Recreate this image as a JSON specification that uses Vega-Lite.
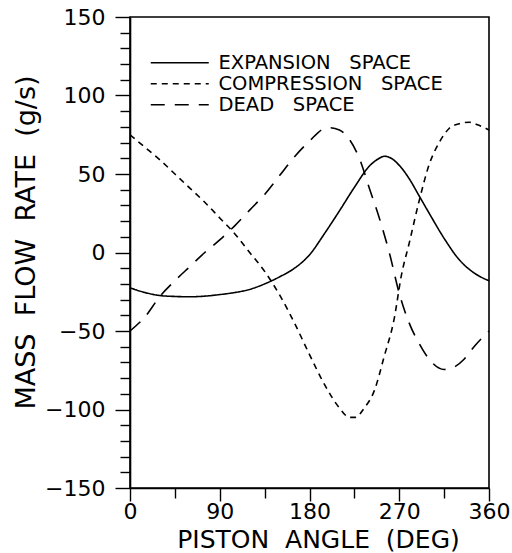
{
  "$schema": "https://vega.github.io/schema/vega-lite/v6.json",
  "width": 359,
  "height": 471,
  "autosize": "none",
  "padding": {"left": 130, "top": 17, "right": 23, "bottom": 65},
  "background": "white",
  "config": {
    "view": {"stroke": "black", "strokeWidth": 1.6},
    "font": "DejaVu Sans",
    "axis": {"grid": false, "domainColor": "black", "domainWidth": 1.6, "tickColor": "black", "tickWidth": 1.4, "labelColor": "black", "titleColor": "black", "labelFont": "DejaVu Sans", "titleFont": "DejaVu Sans", "titleFontWeight": "normal", "labelOverlap": false, "labelFlush": false}
  },
  "data": {
    "values": [
      {"angle": 0, "rate": -22.5, "space": "EXPANSION SPACE"},
      {"angle": 15, "rate": -25.5, "space": "EXPANSION SPACE"},
      {"angle": 30, "rate": -27.4, "space": "EXPANSION SPACE"},
      {"angle": 45, "rate": -28.0, "space": "EXPANSION SPACE"},
      {"angle": 60, "rate": -28.2, "space": "EXPANSION SPACE"},
      {"angle": 75, "rate": -27.8, "space": "EXPANSION SPACE"},
      {"angle": 90, "rate": -26.8, "space": "EXPANSION SPACE"},
      {"angle": 105, "rate": -25.5, "space": "EXPANSION SPACE"},
      {"angle": 120, "rate": -23.5, "space": "EXPANSION SPACE"},
      {"angle": 135, "rate": -20.0, "space": "EXPANSION SPACE"},
      {"angle": 150, "rate": -15.5, "space": "EXPANSION SPACE"},
      {"angle": 165, "rate": -10.0, "space": "EXPANSION SPACE"},
      {"angle": 180, "rate": -1.5, "space": "EXPANSION SPACE"},
      {"angle": 195, "rate": 12.0, "space": "EXPANSION SPACE"},
      {"angle": 210, "rate": 26.5, "space": "EXPANSION SPACE"},
      {"angle": 225, "rate": 41.5, "space": "EXPANSION SPACE"},
      {"angle": 240, "rate": 55.0, "space": "EXPANSION SPACE"},
      {"angle": 250, "rate": 60.0, "space": "EXPANSION SPACE"},
      {"angle": 255, "rate": 61.3, "space": "EXPANSION SPACE"},
      {"angle": 262, "rate": 60.0, "space": "EXPANSION SPACE"},
      {"angle": 270, "rate": 55.5, "space": "EXPANSION SPACE"},
      {"angle": 280, "rate": 47.0, "space": "EXPANSION SPACE"},
      {"angle": 290, "rate": 36.0, "space": "EXPANSION SPACE"},
      {"angle": 300, "rate": 25.0, "space": "EXPANSION SPACE"},
      {"angle": 315, "rate": 9.0, "space": "EXPANSION SPACE"},
      {"angle": 330, "rate": -4.5, "space": "EXPANSION SPACE"},
      {"angle": 345, "rate": -13.0, "space": "EXPANSION SPACE"},
      {"angle": 360, "rate": -18.0, "space": "EXPANSION SPACE"},

      {"angle": 0, "rate": 75, "space": "COMPRESSION SPACE"},
      {"angle": 15, "rate": 67, "space": "COMPRESSION SPACE"},
      {"angle": 30, "rate": 59, "space": "COMPRESSION SPACE"},
      {"angle": 45, "rate": 50, "space": "COMPRESSION SPACE"},
      {"angle": 60, "rate": 41, "space": "COMPRESSION SPACE"},
      {"angle": 75, "rate": 32, "space": "COMPRESSION SPACE"},
      {"angle": 90, "rate": 22, "space": "COMPRESSION SPACE"},
      {"angle": 105, "rate": 12, "space": "COMPRESSION SPACE"},
      {"angle": 120, "rate": 0, "space": "COMPRESSION SPACE"},
      {"angle": 135, "rate": -12, "space": "COMPRESSION SPACE"},
      {"angle": 150, "rate": -27, "space": "COMPRESSION SPACE"},
      {"angle": 165, "rate": -45, "space": "COMPRESSION SPACE"},
      {"angle": 180, "rate": -65, "space": "COMPRESSION SPACE"},
      {"angle": 195, "rate": -84, "space": "COMPRESSION SPACE"},
      {"angle": 210, "rate": -99, "space": "COMPRESSION SPACE"},
      {"angle": 220, "rate": -105, "space": "COMPRESSION SPACE"},
      {"angle": 226, "rate": -105, "space": "COMPRESSION SPACE"},
      {"angle": 235, "rate": -99, "space": "COMPRESSION SPACE"},
      {"angle": 245, "rate": -88, "space": "COMPRESSION SPACE"},
      {"angle": 255, "rate": -66, "space": "COMPRESSION SPACE"},
      {"angle": 265, "rate": -42, "space": "COMPRESSION SPACE"},
      {"angle": 272, "rate": -15, "space": "COMPRESSION SPACE"},
      {"angle": 280, "rate": 6, "space": "COMPRESSION SPACE"},
      {"angle": 290, "rate": 33, "space": "COMPRESSION SPACE"},
      {"angle": 300, "rate": 56, "space": "COMPRESSION SPACE"},
      {"angle": 310, "rate": 70, "space": "COMPRESSION SPACE"},
      {"angle": 320, "rate": 79, "space": "COMPRESSION SPACE"},
      {"angle": 330, "rate": 82, "space": "COMPRESSION SPACE"},
      {"angle": 340, "rate": 83, "space": "COMPRESSION SPACE"},
      {"angle": 350, "rate": 81, "space": "COMPRESSION SPACE"},
      {"angle": 360, "rate": 78, "space": "COMPRESSION SPACE"},

      {"angle": 0, "rate": -50, "space": "DEAD SPACE"},
      {"angle": 15, "rate": -41, "space": "DEAD SPACE"},
      {"angle": 30, "rate": -28, "space": "DEAD SPACE"},
      {"angle": 45, "rate": -18, "space": "DEAD SPACE"},
      {"angle": 60, "rate": -9, "space": "DEAD SPACE"},
      {"angle": 75, "rate": 0, "space": "DEAD SPACE"},
      {"angle": 90, "rate": 8, "space": "DEAD SPACE"},
      {"angle": 105, "rate": 17, "space": "DEAD SPACE"},
      {"angle": 120, "rate": 27, "space": "DEAD SPACE"},
      {"angle": 135, "rate": 37, "space": "DEAD SPACE"},
      {"angle": 150, "rate": 49, "space": "DEAD SPACE"},
      {"angle": 165, "rate": 61, "space": "DEAD SPACE"},
      {"angle": 180, "rate": 71, "space": "DEAD SPACE"},
      {"angle": 195, "rate": 79, "space": "DEAD SPACE"},
      {"angle": 200, "rate": 79.5, "space": "DEAD SPACE"},
      {"angle": 210, "rate": 78, "space": "DEAD SPACE"},
      {"angle": 220, "rate": 72, "space": "DEAD SPACE"},
      {"angle": 230, "rate": 60, "space": "DEAD SPACE"},
      {"angle": 240, "rate": 41, "space": "DEAD SPACE"},
      {"angle": 250, "rate": 22, "space": "DEAD SPACE"},
      {"angle": 260, "rate": 0, "space": "DEAD SPACE"},
      {"angle": 270, "rate": -26, "space": "DEAD SPACE"},
      {"angle": 280, "rate": -45, "space": "DEAD SPACE"},
      {"angle": 290, "rate": -58, "space": "DEAD SPACE"},
      {"angle": 300, "rate": -68, "space": "DEAD SPACE"},
      {"angle": 315, "rate": -74.5, "space": "DEAD SPACE"},
      {"angle": 325, "rate": -73, "space": "DEAD SPACE"},
      {"angle": 335, "rate": -68, "space": "DEAD SPACE"},
      {"angle": 345, "rate": -60, "space": "DEAD SPACE"},
      {"angle": 360, "rate": -50, "space": "DEAD SPACE"}
    ]
  },
  "mark": {"type": "line", "interpolate": "monotone", "color": "black", "strokeWidth": 1.6},
  "encoding": {
    "x": {
      "field": "angle", "type": "quantitative",
      "scale": {"domain": [0, 360], "nice": false, "zero": false},
      "axis": {
        "title": "PISTON\u00a0\u00a0ANGLE\u00a0\u00a0(DEG)",
        "values": [0, 45, 90, 135, 180, 225, 270, 315, 360],
        "labelExpr": "datum.value % 90 === 0 ? datum.label : ''",
        "tickSize": {"condition": {"test": "datum.value % 90 === 0", "value": 13}, "value": 10},
        "labelFontSize": 22,
        "labelPadding": 0,
        "titleFontSize": 25,
        "titlePadding": 5,
        "titleX": 188
      }
    },
    "y": {
      "field": "rate", "type": "quantitative",
      "scale": {"domain": [-150, 150], "nice": false, "zero": false},
      "axis": {
        "title": "MASS\u00a0\u00a0FLOW\u00a0\u00a0RATE\u00a0\u00a0(g/s)",
        "values": [-150,-140,-130,-120,-110,-100,-90,-80,-70,-60,-50,-40,-30,-20,-10,0,10,20,30,40,50,60,70,80,90,100,110,120,130,140,150],
        "labelExpr": "datum.value % 50 === 0 ? datum.label : ''",
        "tickSize": {"condition": {"test": "datum.value % 50 === 0", "value": 15}, "value": 10},
        "labelFontSize": 22,
        "labelPadding": 10,
        "titleFontSize": 27,
        "titlePadding": 0,
        "titleX": -90,
        "titleY": 225
      }
    },
    "strokeDash": {
      "field": "space", "type": "nominal",
      "scale": {"domain": ["EXPANSION SPACE", "COMPRESSION SPACE", "DEAD SPACE"], "range": [[1, 0], [6, 5], [14, 10]]},
      "legend": {
        "title": null,
        "orient": "none",
        "legendX": 40,
        "legendY": 36,
        "padding": 0,
        "symbolType": "M-29,0H29",
        "symbolSize": 4,
        "symbolStrokeWidth": 1.6,
        "symbolStrokeColor": "black",
        "labelFontSize": 19.5,
        "labelFont": "DejaVu Sans",
        "labelColor": "black",
        "labelOffset": 29,
        "labelLimit": 0,
        "labelExpr": "replace(datum.label, ' ', '\u00a0\u00a0\u00a0')",
        "rowPadding": 0
      }
    }
  }
}
